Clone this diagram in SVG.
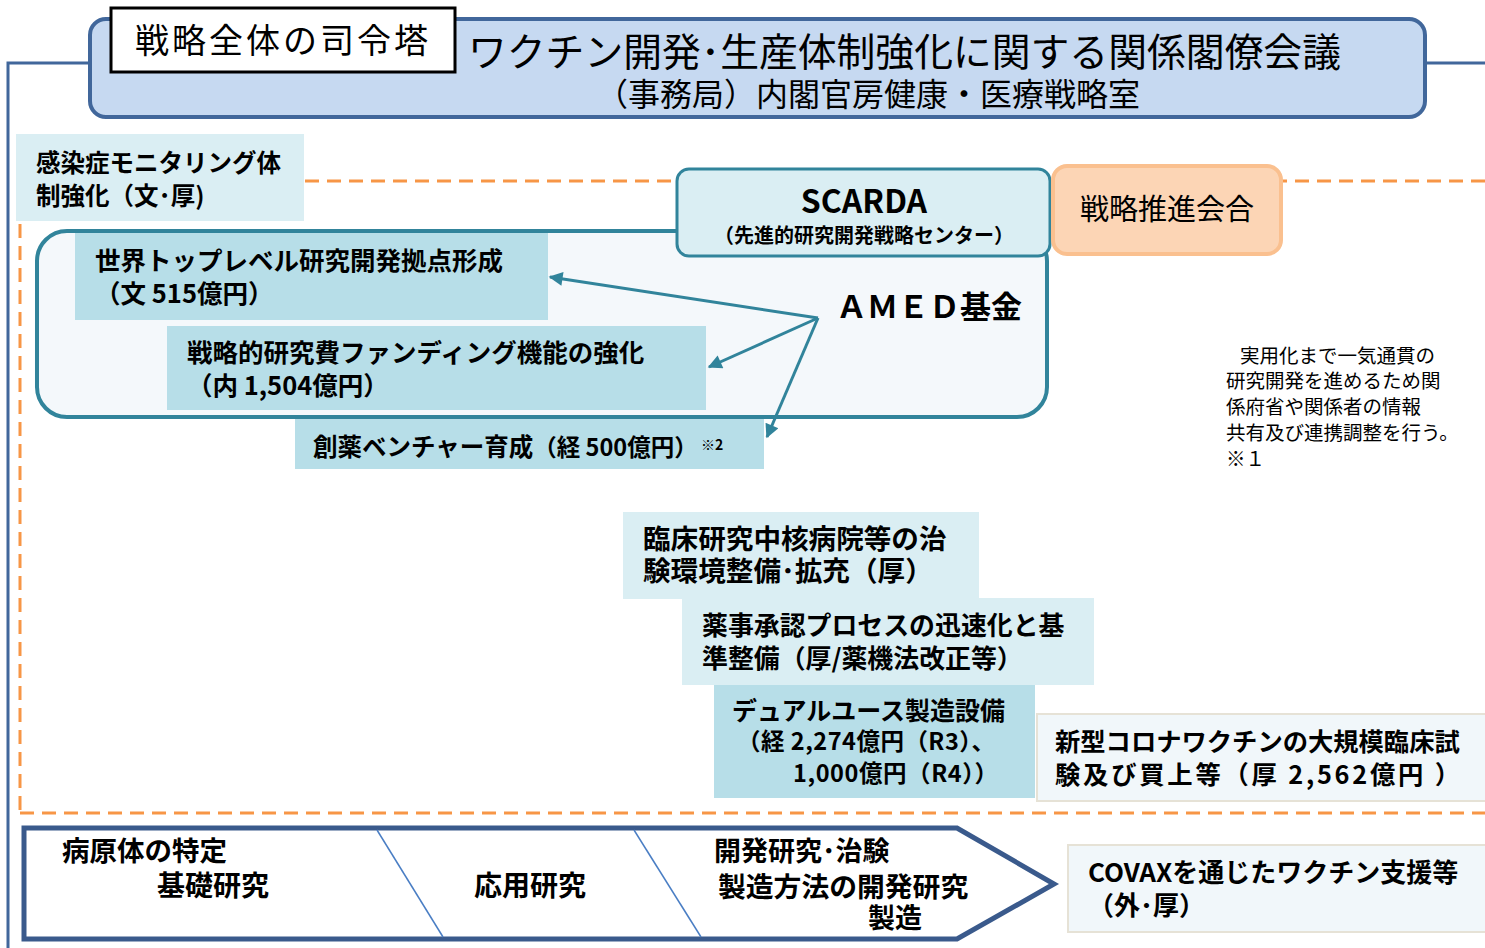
<svg xmlns="http://www.w3.org/2000/svg" width="1485" height="948" viewBox="0 0 1485 948">
<defs>
<style>
text{font-family:"Noto Sans CJK JP","Noto Sans",sans-serif;fill:#000}
.b{font-weight:bold}
.lb{fill:#b7dee8}
.pb{fill:#daeef3}
.pale{fill:#f1f7fa;stroke:#e6e2d6;stroke-width:2}
.dash{stroke:#f79646;stroke-width:3;stroke-dasharray:14 8;fill:none}
.conn{stroke:#31849b;stroke-width:3;fill:none}
</style>
<marker id="ah2" viewBox="0 0 10 10" refX="9" refY="5" markerWidth="18" markerHeight="14" markerUnits="userSpaceOnUse" orient="auto">
<path d="M0,0 L10,5 L0,10 z" fill="#31849b"/>
</marker>
</defs>
<rect width="1485" height="948" fill="#fff"/>

<g id="frame">
<path d="M90,63 H8 V948" fill="none" stroke="#41679b" stroke-width="3"/>
<path d="M1425,63 H1485" fill="none" stroke="#41679b" stroke-width="3"/>
<path class="dash" d="M305,181 H1485"/>
<path class="dash" d="M20,224 V812"/>
<path class="dash" d="M20,813 H1485"/>
</g>

<g id="council">
<rect x="90" y="19" width="1335" height="98" rx="16" fill="#c6d9f1" stroke="#41679b" stroke-width="4"/>
<text font-size="38.8"><tspan x="468" y="66">ワクチン開発･生産体制強化に関する関係閣僚会議</tspan><tspan x="596" y="106" font-size="32">（事務局）内閣官房健康・医療戦略室</tspan></text>
</g>

<g id="command">
<rect x="111" y="8" width="344" height="64" fill="#fff" stroke="#000" stroke-width="3"/>
<text x="283" y="53" font-size="34" letter-spacing="3" text-anchor="middle">戦略全体の司令塔</text>
</g>

<g id="monitoring">
<rect class="pb" x="16" y="134" width="288" height="87"/>
<text class="b" font-size="24.5"><tspan x="36" y="172">感染症モニタリング体</tspan><tspan x="36" y="205">制強化（文･厚)</tspan></text>
</g>

<g id="amed">
<rect x="37" y="231" width="1010" height="186" rx="30" fill="#f4f8fb" stroke="#31849b" stroke-width="4"/>
<text class="b" x="836" y="318" font-size="31">ＡＭＥＤ基金</text>
</g>

<g id="scarda">
<rect x="677" y="169" width="373" height="87" rx="12" fill="#daeef3" stroke="#31849b" stroke-width="3"/>
<text class="b" text-anchor="middle"><tspan x="864" y="213" font-size="32">SCARDA</tspan><tspan x="864" y="243" font-size="20">（先進的研究開発戦略センター）</tspan></text>
</g>

<g id="strategy-meeting">
<rect x="1053" y="166" width="228" height="88" rx="14" fill="#fcd5b5" stroke="#fac08f" stroke-width="4"/>
<text x="1167" y="220" font-size="29" text-anchor="middle">戦略推進会合</text>
</g>

<g id="toplevel">
<rect class="lb" x="75" y="233" width="473" height="87"/>
<text class="b" font-size="25.5"><tspan x="95" y="270">世界トップレベル研究開発拠点形成</tspan><tspan x="95" y="303">（文 515億円）</tspan></text>
</g>

<g id="funding">
<rect class="lb" x="167" y="326" width="539" height="84"/>
<text class="b" font-size="25.5"><tspan x="187" y="362">戦略的研究費ファンディング機能の強化</tspan><tspan x="187" y="395">（内 1,504億円）</tspan></text>
</g>

<g id="venture">
<rect class="lb" x="295" y="419" width="469" height="50"/>
<text class="b" x="313" y="456" font-size="24.5">創薬ベンチャー育成<tspan font-size="23.5">（経 500億円）</tspan><tspan font-size="14" dy="-6"> ※2</tspan></text>
</g>

<g id="connectors">
<line class="conn" x1="818" y1="318" x2="550" y2="277" marker-end="url(#ah2)"/>
<line class="conn" x1="818" y1="318" x2="709" y2="367" marker-end="url(#ah2)"/>
<line class="conn" x1="818" y1="318" x2="767" y2="437" marker-end="url(#ah2)"/>
</g>

<g id="note">
<text font-size="19.5"><tspan x="1240" y="363">実用化まで一気通貫の</tspan><tspan x="1226" y="388">研究開発を進めるため関</tspan><tspan x="1226" y="414">係府省や関係者の情報</tspan><tspan x="1226" y="440">共有及び連携調整を行う。</tspan><tspan x="1226" y="466">※１</tspan></text>
</g>

<g id="clinical">
<rect class="pb" x="623" y="512" width="356" height="87"/>
<text class="b" font-size="27.6"><tspan x="643" y="549">臨床研究中核病院等の治</tspan><tspan x="643" y="581">験環境整備･拡充（厚）</tspan></text>
</g>

<g id="approval">
<rect class="pb" x="682" y="598" width="412" height="87"/>
<text class="b" font-size="25.9"><tspan x="702" y="635">薬事承認プロセスの迅速化と基</tspan><tspan x="702" y="668">準整備（厚/薬機法改正等）</tspan></text>
</g>

<g id="dualuse">
<rect class="lb" x="714" y="685" width="321" height="113"/>
<text class="b" font-size="25"><tspan x="732" y="720">デュアルユース製造設備</tspan><tspan x="737" y="750" font-size="23.5" textLength="258" lengthAdjust="spacing">（経 2,274億円（R3）、</tspan><tspan x="793" y="782" font-size="23.5" textLength="205" lengthAdjust="spacing">1,000億円（R4））</tspan></text>
</g>

<g id="corona">
<rect class="pale" x="1037" y="714" width="452" height="87"/>
<text class="b" font-size="25.3"><tspan x="1055" y="751">新型コロナワクチンの大規模臨床試</tspan><tspan x="1055" y="784" textLength="405" lengthAdjust="spacing">験及び買上等（厚 2,562億円 ）</tspan></text>
</g>

<g id="pipeline">
<path d="M24,828 H957 L1054,884 L957,939 H24 Z" fill="#fff" stroke="#3a5a8c" stroke-width="5" stroke-linejoin="miter"/>
<line x1="377" y1="830" x2="443" y2="937" stroke="#4a7ec4" stroke-width="1.5"/>
<line x1="634" y1="830" x2="701" y2="937" stroke="#4a7ec4" stroke-width="1.5"/>
<text class="b" font-size="27.5"><tspan x="62" y="861">病原体の特定</tspan><tspan x="157" y="896" font-size="28">基礎研究</tspan></text>
<text class="b" x="474" y="896" font-size="28">応用研究</text>
<text class="b" font-size="27.8"><tspan x="714" y="861" font-size="27">開発研究･治験</tspan><tspan x="718" y="897">製造方法の開発研究</tspan><tspan x="868" y="928" font-size="27">製造</tspan></text>
</g>

<g id="covax">
<rect class="pale" x="1068" y="845" width="420" height="87"/>
<text class="b" font-size="26"><tspan x="1088" y="882">COVAXを通じたワクチン支援等</tspan><tspan x="1088" y="915">（外･厚）</tspan></text>
</g>
</svg>
